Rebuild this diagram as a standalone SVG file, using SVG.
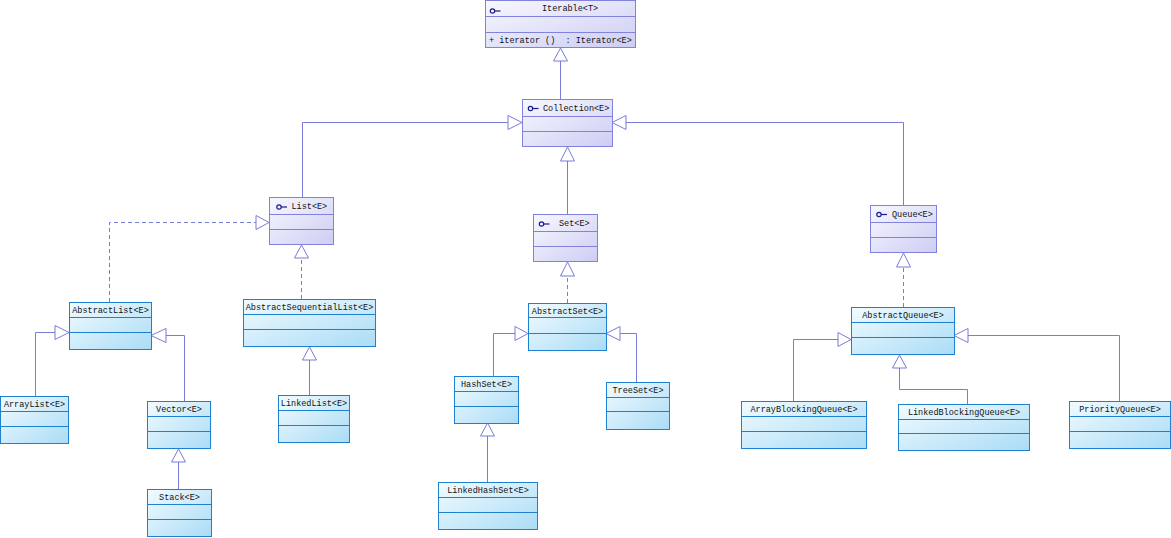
<svg xmlns="http://www.w3.org/2000/svg" width="1171" height="538" viewBox="0 0 1171 538">
<defs>
<linearGradient id="gI" x1="0" y1="0" x2="1" y2="1">
<stop offset="0" stop-color="#f8f8ff"/>
<stop offset="1" stop-color="#cdcdf4"/>
</linearGradient>
<linearGradient id="gC" x1="0" y1="0" x2="1" y2="1">
<stop offset="0" stop-color="#f2fbff"/>
<stop offset="1" stop-color="#aadcf6"/>
</linearGradient>
</defs>
<style>
.ib{fill:url(#gI);stroke:#8282dc;stroke-width:1}
.il{stroke:#8282dc;stroke-width:1}
.cb{fill:url(#gC);stroke:#2080d0;stroke-width:1}
.cl{stroke:#2080d0;stroke-width:1}
text{font-family:"Liberation Mono","DejaVu Sans Mono",monospace;font-size:8.5px;fill:#111}
.c{text-anchor:middle}
.ic{fill:none;stroke:#1a1a90;stroke-width:1.2}
.ln{fill:none;stroke:#7b7bd8;stroke-width:1}
.dl{fill:none;stroke:#7b7bd8;stroke-width:1;stroke-dasharray:4,3}
.tri{fill:#fff;stroke:#7b7bd8;stroke-width:1}
</style>
<rect width="1171" height="538" fill="#fff"/>

<g id="connectors">
<path class="ln" d="M560.5 99V61"/>
<polygon class="tri" points="560.5,48 553.5,61 567.5,61"/>
<path class="ln" d="M302.5 197V122.5H508"/>
<polygon class="tri" points="522,122.5 508,115.5 508,129.5"/>
<path class="ln" d="M903.5 205V122.5H626"/>
<polygon class="tri" points="612,122.5 626,115.5 626,129.5"/>
<path class="ln" d="M567.5 214V161"/>
<polygon class="tri" points="567.5,147 560.5,161 574.5,161"/>
<path class="dl" d="M109.5 302V222.5H256"/>
<polygon class="tri" points="269,222.5 256,215.5 256,229.5"/>
<path class="dl" d="M301.5 299V258"/>
<polygon class="tri" points="301.5,245 294.5,258 308.5,258"/>
<path class="ln" d="M35.5 396V332.5H55"/>
<polygon class="tri" points="69,332.5 55,325.5 55,339.5"/>
<path class="ln" d="M184.5 401V335.5H166"/>
<polygon class="tri" points="151,335.5 166,328.5 166,342.5"/>
<path class="ln" d="M178.5 489V462"/>
<polygon class="tri" points="178.5,449 171.5,462 185.5,462"/>
<path class="ln" d="M309.5 395V360"/>
<polygon class="tri" points="309.5,347 302.5,360 316.5,360"/>
<path class="dl" d="M567.5 303V276"/>
<polygon class="tri" points="567.5,262 560.5,276 574.5,276"/>
<path class="ln" d="M493.5 376V333.5H515"/>
<polygon class="tri" points="528,333.5 515,326.5 515,340.5"/>
<path class="ln" d="M636.5 382V333.5H620"/>
<polygon class="tri" points="606,333.5 620,326.5 620,340.5"/>
<path class="ln" d="M487.5 482V436"/>
<polygon class="tri" points="487.5,423 480.5,436 494.5,436"/>
<path class="dl" d="M903.5 307V267"/>
<polygon class="tri" points="903.5,253 896.5,267 910.5,267"/>
<path class="ln" d="M793.5 401V339.5H838"/>
<polygon class="tri" points="851,339.5 838,332.5 838,346.5"/>
<path class="ln" d="M1119.5 401V335.5H968"/>
<polygon class="tri" points="954,335.5 968,328.5 968,342.5"/>
<path class="ln" d="M967.5 404V389.5H899.5V368"/>
<polygon class="tri" points="899.5,355 892.5,368 906.5,368"/>
</g>

<g id="Iterable">
<rect class="ib" x="485.5" y="0.5" width="150" height="47"/>
<line class="il" x1="485.5" y1="16.5" x2="635.5" y2="16.5"/>
<line class="il" x1="485.5" y1="32.5" x2="635.5" y2="32.5"/>
<circle class="ic" cx="492.5" cy="11" r="2.2"/><line class="ic" x1="494.7" y1="11" x2="500.5" y2="11"/>
<text x="542" y="11">Iterable&lt;T&gt;</text>
<text x="489" y="43" xml:space="preserve">+ iterator ()  : Iterator&lt;E&gt;</text>
</g>

<g id="Collection">
<rect class="ib" x="522.5" y="99.5" width="90" height="47"/>
<line class="il" x1="522.5" y1="116.5" x2="612.5" y2="116.5"/>
<line class="il" x1="522.5" y1="131.5" x2="612.5" y2="131.5"/>
<circle class="ic" cx="530.5" cy="108.5" r="2.2"/><line class="ic" x1="532.7" y1="108.5" x2="538.5" y2="108.5"/>
<text x="543" y="111">Collection&lt;E&gt;</text>
</g>

<g id="List">
<rect class="ib" x="269.5" y="197.5" width="64" height="47"/>
<line class="il" x1="269.5" y1="214.5" x2="333.5" y2="214.5"/>
<line class="il" x1="269.5" y1="229.5" x2="333.5" y2="229.5"/>
<circle class="ic" cx="279" cy="207" r="2.2"/><line class="ic" x1="281.2" y1="207" x2="287" y2="207"/>
<text x="291.5" y="209">List&lt;E&gt;</text>
</g>

<g id="Set">
<rect class="ib" x="533.5" y="214.5" width="64" height="47"/>
<line class="il" x1="533.5" y1="231.5" x2="597.5" y2="231.5"/>
<line class="il" x1="533.5" y1="246.5" x2="597.5" y2="246.5"/>
<circle class="ic" cx="541.5" cy="224" r="2.2"/><line class="ic" x1="543.7" y1="224" x2="549.5" y2="224"/>
<text x="559" y="226">Set&lt;E&gt;</text>
</g>

<g id="Queue">
<rect class="ib" x="870.5" y="205.5" width="66" height="47"/>
<line class="il" x1="870.5" y1="222.5" x2="936.5" y2="222.5"/>
<line class="il" x1="870.5" y1="237.5" x2="936.5" y2="237.5"/>
<circle class="ic" cx="879" cy="214.5" r="2.2"/><line class="ic" x1="881.2" y1="214.5" x2="887" y2="214.5"/>
<text x="892" y="216.5">Queue&lt;E&gt;</text>
</g>

<g id="AbstractList">
<rect class="cb" x="69.5" y="302.5" width="82" height="47"/>
<line class="cl" x1="69.5" y1="317.5" x2="151.5" y2="317.5"/>
<line class="cl" x1="69.5" y1="332.5" x2="151.5" y2="332.5"/>
<text class="c" x="110.5" y="313">AbstractList&lt;E&gt;</text>
</g>

<g id="AbstractSequentialList">
<rect class="cb" x="243.5" y="299.5" width="132" height="47"/>
<line class="cl" x1="243.5" y1="314.5" x2="375.5" y2="314.5"/>
<line class="cl" x1="243.5" y1="329.5" x2="375.5" y2="329.5"/>
<text class="c" x="309.5" y="310">AbstractSequentialList&lt;E&gt;</text>
</g>

<g id="AbstractSet">
<rect class="cb" x="528.5" y="303.5" width="78" height="47"/>
<line class="cl" x1="528.5" y1="317.5" x2="606.5" y2="317.5"/>
<line class="cl" x1="528.5" y1="333.5" x2="606.5" y2="333.5"/>
<text class="c" x="567.5" y="314">AbstractSet&lt;E&gt;</text>
</g>

<g id="AbstractQueue">
<rect class="cb" x="851.5" y="307.5" width="103" height="47"/>
<line class="cl" x1="851.5" y1="322.5" x2="954.5" y2="322.5"/>
<line class="cl" x1="851.5" y1="337.5" x2="954.5" y2="337.5"/>
<text class="c" x="903" y="318">AbstractQueue&lt;E&gt;</text>
</g>

<g id="ArrayList">
<rect class="cb" x="0.5" y="396.5" width="68" height="47"/>
<line class="cl" x1="0.5" y1="411.5" x2="68.5" y2="411.5"/>
<line class="cl" x1="0.5" y1="426.5" x2="68.5" y2="426.5"/>
<text class="c" x="34.5" y="407">ArrayList&lt;E&gt;</text>
</g>

<g id="Vector">
<rect class="cb" x="147.5" y="401.5" width="63" height="47"/>
<line class="cl" x1="147.5" y1="416.5" x2="210.5" y2="416.5"/>
<line class="cl" x1="147.5" y1="431.5" x2="210.5" y2="431.5"/>
<text class="c" x="179" y="412">Vector&lt;E&gt;</text>
</g>

<g id="Stack">
<rect class="cb" x="147.5" y="489.5" width="64" height="47"/>
<line class="cl" x1="147.5" y1="504.5" x2="211.5" y2="504.5"/>
<line class="cl" x1="147.5" y1="519.5" x2="211.5" y2="519.5"/>
<text class="c" x="179.5" y="500">Stack&lt;E&gt;</text>
</g>

<g id="LinkedList">
<rect class="cb" x="278.5" y="395.5" width="71" height="47"/>
<line class="cl" x1="278.5" y1="410.5" x2="349.5" y2="410.5"/>
<line class="cl" x1="278.5" y1="425.5" x2="349.5" y2="425.5"/>
<text class="c" x="314" y="406">LinkedList&lt;E&gt;</text>
</g>

<g id="HashSet">
<rect class="cb" x="454.5" y="376.5" width="64" height="47"/>
<line class="cl" x1="454.5" y1="391.5" x2="518.5" y2="391.5"/>
<line class="cl" x1="454.5" y1="406.5" x2="518.5" y2="406.5"/>
<text class="c" x="486.5" y="387">HashSet&lt;E&gt;</text>
</g>

<g id="TreeSet">
<rect class="cb" x="606.5" y="382.5" width="63" height="47"/>
<line class="cl" x1="606.5" y1="397.5" x2="669.5" y2="397.5"/>
<line class="cl" x1="606.5" y1="411.5" x2="669.5" y2="411.5"/>
<text class="c" x="638" y="393">TreeSet&lt;E&gt;</text>
</g>

<g id="LinkedHashSet">
<rect class="cb" x="438.5" y="482.5" width="99" height="47"/>
<line class="cl" x1="438.5" y1="497.5" x2="537.5" y2="497.5"/>
<line class="cl" x1="438.5" y1="512.5" x2="537.5" y2="512.5"/>
<text class="c" x="488" y="493">LinkedHashSet&lt;E&gt;</text>
</g>

<g id="ArrayBlockingQueue">
<rect class="cb" x="741.5" y="401.5" width="125" height="47"/>
<line class="cl" x1="741.5" y1="416.5" x2="866.5" y2="416.5"/>
<line class="cl" x1="741.5" y1="431.5" x2="866.5" y2="431.5"/>
<text class="c" x="804" y="412">ArrayBlockingQueue&lt;E&gt;</text>
</g>

<g id="LinkedBlockingQueue">
<rect class="cb" x="898.5" y="404.5" width="131" height="46"/>
<line class="cl" x1="898.5" y1="419.5" x2="1029.5" y2="419.5"/>
<line class="cl" x1="898.5" y1="433.5" x2="1029.5" y2="433.5"/>
<text class="c" x="964" y="414.5">LinkedBlockingQueue&lt;E&gt;</text>
</g>

<g id="PriorityQueue">
<rect class="cb" x="1069.5" y="401.5" width="101" height="47"/>
<line class="cl" x1="1069.5" y1="416.5" x2="1170.5" y2="416.5"/>
<line class="cl" x1="1069.5" y1="431.5" x2="1170.5" y2="431.5"/>
<text class="c" x="1120" y="412">PriorityQueue&lt;E&gt;</text>
</g>
</svg>
